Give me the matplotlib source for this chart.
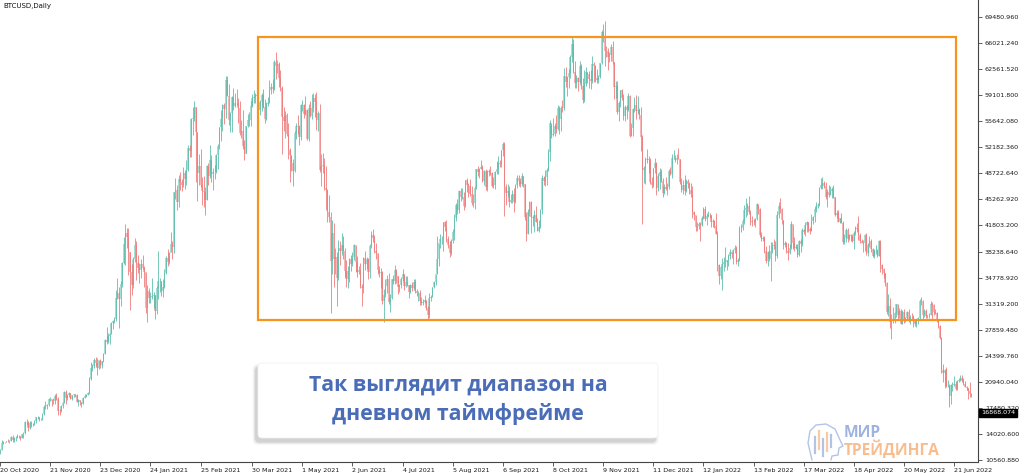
import matplotlib
matplotlib.use("Agg")
import matplotlib.pyplot as plt
import matplotlib.transforms as mtransforms
from matplotlib.patches import FancyBboxPatch, Rectangle
from matplotlib.lines import Line2D
import numpy as np
import pandas as pd

# BTCUSD daily candles, values in thousands of USD, one row per month.
# The open of each day is the previous day's close (24/7 market).
first_open = 11.75
start_date = "2020-10-20"

close_2020 = [
    11.92, 12.82, 12.97, 12.93, 13.11, 13.03, 13.07, 13.64, 13.27, 13.46, 13.56, 13.80,
    13.74, 13.55, 14.02, 14.15, 15.59, 15.58, 14.83, 15.48, 15.33, 15.30, 15.70, 16.28, 16.32, 16.07, 15.96, 16.72, 17.65, 17.80, 17.82, 18.66, 18.68, 18.37, 18.36, 19.11, 18.73, 17.15, 17.14, 17.72, 18.18, 19.63,
    18.80, 19.20, 19.45, 18.70, 19.15, 19.36, 19.17, 18.32, 18.55, 18.26, 18.06, 18.80, 19.14, 19.25, 19.44, 21.38, 22.80, 23.13, 23.87, 23.48, 22.75, 23.82, 23.24, 23.73, 24.71, 26.49, 26.28, 27.08, 27.36, 28.84, 29.00,
]
high_2020 = [
    12.00, 13.18, 13.16, 13.02, 13.16, 13.33, 13.24, 13.76, 13.86, 13.62, 13.66, 14.07,
    13.86, 13.82, 14.07, 14.24, 15.74, 15.96, 15.69, 15.78, 15.82, 15.48, 15.91, 16.34, 16.45, 16.32, 16.14, 16.84, 17.84, 18.39, 18.02, 18.79, 18.93, 18.70, 18.77, 19.35, 19.42, 18.92, 17.41, 17.85, 18.34, 19.75,
    19.92, 19.31, 19.57, 19.50, 19.19, 19.41, 19.39, 19.30, 18.64, 18.55, 18.29, 18.95, 19.39, 19.35, 19.56, 21.56, 23.64, 23.28, 24.10, 24.26, 24.08, 23.83, 24.06, 23.77, 24.76, 26.72, 28.29, 27.40, 27.40, 28.94, 29.24,
]
low_2020 = [
    11.42, 11.90, 12.72, 12.88, 12.90, 12.90, 12.79, 13.05, 12.95, 12.99, 13.15, 13.45,
    13.55, 13.29, 13.49, 13.55, 14.09, 15.22, 14.42, 14.73, 14.95, 15.09, 15.27, 15.50, 15.96, 15.81, 15.84, 15.88, 16.57, 17.32, 17.39, 17.76, 18.46, 17.75, 18.05, 18.04, 18.57, 16.53, 16.60, 16.94, 17.52, 18.18,
    18.00, 18.57, 18.94, 18.62, 18.54, 18.94, 18.92, 18.24, 17.75, 17.94, 17.67, 18.02, 18.76, 19.01, 19.25, 19.40, 21.24, 22.42, 22.79, 23.09, 21.89, 22.69, 22.85, 22.82, 23.65, 24.64, 25.99, 26.18, 26.06, 27.36, 27.96,
]

close_2021 = [
    29.37, 32.13, 32.78, 31.97, 33.99, 36.82, 39.37, 40.80, 40.25, 38.24, 35.54, 33.91, 37.32, 39.19, 36.83, 36.07, 35.79, 36.63, 36.07, 35.55, 30.83, 33.01, 32.08, 32.26, 32.37, 32.57, 30.43, 33.47, 34.32, 34.32, 33.11,
    33.54, 35.51, 37.47, 36.93, 38.14, 39.27, 38.90, 46.20, 46.48, 44.92, 47.91, 47.50, 47.11, 48.72, 47.94, 49.20, 52.15, 51.68, 55.89, 56.10, 57.54, 54.21, 48.82, 49.71, 47.10, 46.34, 46.19, 45.14,
    49.63, 48.38, 50.54, 48.56, 48.93, 48.91, 51.21, 52.38, 54.88, 55.96, 57.75, 57.23, 61.19, 59.00, 55.86, 56.80, 58.87, 57.65, 58.03, 58.10, 57.35, 54.08, 54.34, 52.30, 51.32, 55.03, 55.85, 55.78, 57.63, 58.73, 58.92,
    59.10, 59.00, 57.12, 58.20, 59.12, 57.60, 56.00, 57.97, 58.10, 59.77, 60.20, 59.89, 63.50, 62.97, 63.20, 61.45, 60.06, 56.22, 55.72, 56.47, 53.91, 51.76, 51.09, 50.05, 49.00, 54.02, 55.03, 54.82, 53.56, 57.75,
    57.83, 56.63, 57.20, 53.33, 57.42, 56.40, 57.36, 58.80, 58.23, 55.86, 56.70, 49.15, 49.72, 49.88, 46.76, 46.43, 43.54, 42.91, 37.00, 40.78, 37.30, 37.54, 34.77, 38.81, 38.32, 39.22, 38.44, 35.66, 34.62, 35.68, 37.34,
    36.69, 37.57, 39.19, 36.88, 35.52, 35.80, 33.59, 33.41, 37.39, 36.68, 37.31, 35.55, 39.02, 40.53, 40.14, 38.35, 38.09, 35.82, 35.48, 35.60, 31.68, 32.51, 33.68, 34.66, 31.64, 32.16, 34.64, 34.43, 35.87, 35.04,
    33.57, 33.90, 34.66, 35.29, 33.75, 34.24, 33.86, 32.88, 33.81, 33.52, 34.26, 33.09, 32.73, 32.82, 31.78, 31.42, 31.53, 31.80, 30.82, 29.81, 32.11, 32.31, 33.58, 34.29, 35.35, 37.34, 39.41, 39.99, 40.01, 42.24, 41.63,
    39.97, 39.20, 38.15, 39.75, 40.87, 42.82, 44.56, 43.80, 46.37, 45.59, 45.59, 44.43, 47.79, 47.10, 47.05, 45.99, 44.70, 44.80, 46.72, 49.34, 48.91, 49.32, 49.55, 47.71, 48.99, 46.94, 49.06, 48.90, 48.81, 46.99, 47.17,
    48.85, 49.33, 50.03, 49.94, 51.77, 52.66, 46.86, 46.05, 46.40, 44.85, 45.17, 46.03, 44.95, 47.11, 48.15, 47.76, 47.30, 48.31, 47.26, 42.84, 40.69, 43.57, 44.90, 42.84, 42.72, 43.21, 42.24, 41.03, 41.52, 43.79,
    48.12, 47.71, 48.20, 49.11, 51.51, 55.36, 53.81, 53.97, 54.97, 54.66, 57.47, 56.01, 57.37, 57.35, 61.67, 60.88, 61.53, 62.04, 64.26, 65.99, 62.21, 60.69, 61.39, 60.93, 63.04, 60.36, 58.48, 60.62, 62.23, 61.89, 61.32,
    61.00, 63.23, 62.94, 61.45, 61.13, 61.53, 63.33, 67.57, 66.97, 64.99, 64.95, 64.16, 64.47, 65.47, 63.56, 60.16, 60.37, 56.94, 58.12, 59.76, 58.68, 56.30, 57.57, 57.20, 58.96, 53.73, 54.72, 57.27, 57.81, 56.95,
    57.18, 56.48, 53.60, 49.15, 49.40, 50.44, 50.59, 50.47, 47.55, 47.14, 49.39, 50.05, 46.70, 48.34, 48.86, 47.63, 46.13, 46.83, 46.68, 46.91, 49.00, 48.60, 50.78, 50.82, 50.43, 50.81, 50.64, 47.59, 46.44, 47.18, 46.31,
]
high_2021 = [
    29.60, 33.16, 34.78, 33.60, 34.44, 36.94, 40.18, 41.95, 41.43, 41.42, 38.26, 36.63, 37.60, 40.10, 39.70, 37.89, 36.82, 37.30, 37.85, 36.42, 35.55, 33.83, 33.45, 32.94, 34.80, 32.92, 32.56, 33.78, 38.41, 34.83, 34.34,
    34.64, 35.97, 37.66, 38.59, 38.31, 40.95, 39.74, 46.26, 48.14, 47.19, 48.46, 48.87, 48.00, 49.55, 49.18, 50.55, 52.53, 52.48, 56.11, 57.51, 58.35, 57.48, 54.18, 51.27, 51.95, 48.25, 48.37, 46.92,
    49.76, 50.13, 52.53, 51.11, 49.36, 49.81, 51.34, 52.62, 54.90, 57.20, 57.99, 58.05, 61.68, 61.60, 60.56, 56.90, 58.98, 60.03, 59.37, 59.89, 58.69, 58.40, 55.81, 57.16, 53.21, 55.04, 56.56, 56.89, 58.31, 59.27, 59.77,
    59.46, 60.05, 59.50, 58.52, 59.41, 59.96, 58.57, 58.15, 58.88, 61.20, 60.69, 61.23, 63.73, 64.85, 63.80, 63.56, 62.50, 60.40, 57.50, 57.00, 56.76, 55.42, 52.12, 51.17, 50.56, 54.36, 55.43, 56.43, 55.20, 57.96,
    58.46, 57.94, 58.96, 57.23, 57.91, 58.36, 59.23, 59.46, 59.21, 59.56, 57.00, 58.00, 51.33, 51.44, 50.70, 49.75, 46.58, 45.77, 43.53, 42.46, 42.17, 38.78, 38.23, 39.78, 39.75, 40.71, 40.38, 38.84, 37.23, 36.40, 37.44,
    37.90, 38.22, 39.29, 39.24, 37.69, 36.40, 36.79, 34.00, 37.53, 38.32, 37.60, 37.42, 39.32, 41.00, 41.28, 40.47, 39.50, 38.13, 36.35, 36.11, 35.72, 33.30, 34.70, 35.15, 35.49, 32.63, 34.70, 35.18, 36.54, 36.00,
    35.04, 33.94, 34.91, 35.94, 35.29, 35.06, 35.02, 33.92, 34.05, 34.25, 34.59, 34.65, 33.30, 33.09, 33.16, 32.22, 31.96, 32.50, 31.82, 31.01, 32.79, 32.52, 33.61, 34.42, 35.35, 40.37, 39.49, 40.63, 40.36, 42.25, 42.32,
    42.54, 40.42, 39.77, 39.97, 41.34, 43.27, 44.70, 45.31, 46.45, 46.70, 46.74, 46.18, 47.89, 48.09, 47.37, 47.90, 47.09, 46.00, 47.03, 49.35, 49.72, 49.49, 50.48, 49.79, 49.20, 49.30, 49.16, 49.28, 49.63, 48.88, 48.20,
    49.07, 50.40, 51.00, 50.52, 51.87, 52.85, 52.92, 47.34, 47.31, 47.00, 45.97, 46.46, 46.73, 47.25, 48.45, 48.45, 48.14, 48.75, 48.33, 47.33, 43.60, 44.00, 45.00, 45.08, 42.98, 43.89, 44.33, 42.72, 42.56, 44.01,
    48.45, 48.33, 49.22, 49.46, 51.89, 55.75, 55.33, 56.11, 55.45, 56.49, 57.81, 57.63, 57.67, 58.53, 62.76, 62.82, 61.69, 62.61, 64.43, 66.99, 66.64, 63.68, 61.74, 61.49, 63.71, 63.27, 61.44, 62.40, 62.93, 62.26, 62.38,
    62.43, 64.29, 63.53, 63.10, 62.57, 61.79, 63.35, 67.78, 68.53, 69.00, 65.61, 65.40, 64.87, 65.93, 66.28, 63.54, 61.01, 60.94, 58.33, 59.84, 60.00, 59.21, 57.85, 57.76, 59.44, 59.15, 55.40, 57.42, 58.86, 59.15,
    59.04, 57.38, 57.56, 53.87, 49.70, 50.89, 51.94, 50.98, 50.71, 48.22, 49.48, 50.71, 50.16, 48.73, 49.42, 49.25, 48.09, 47.31, 48.27, 47.47, 49.33, 49.51, 51.30, 51.81, 51.11, 51.24, 52.04, 50.64, 48.12, 47.85, 48.53,
]
low_2021 = [
    28.80, 29.03, 32.05, 28.13, 31.07, 33.55, 36.65, 36.57, 38.76, 35.14, 30.55, 32.53, 33.48, 36.87, 34.55, 35.44, 34.07, 34.80, 35.95, 33.56, 30.08, 28.87, 31.52, 31.46, 31.95, 30.85, 29.36, 30.05, 31.99, 32.92, 32.37,
    32.30, 33.45, 35.37, 36.42, 36.70, 38.25, 37.37, 38.13, 45.28, 43.79, 44.19, 46.43, 46.35, 46.86, 46.64, 47.10, 48.97, 50.91, 50.87, 53.86, 55.71, 47.62, 45.02, 47.12, 46.85, 44.45, 44.26, 43.21,
    45.11, 47.11, 48.12, 47.52, 46.44, 47.96, 48.78, 49.33, 51.98, 53.02, 54.37, 55.27, 56.08, 58.96, 55.11, 54.21, 54.28, 57.09, 57.53, 57.82, 55.44, 53.78, 53.44, 51.94, 50.45, 51.40, 54.89, 55.07, 55.04, 57.48, 58.06,
    58.01, 58.40, 57.04, 56.49, 57.02, 57.43, 55.47, 55.86, 57.67, 58.01, 59.31, 59.43, 59.85, 61.30, 62.10, 60.23, 59.65, 51.30, 54.29, 53.45, 53.62, 50.58, 47.50, 49.08, 47.01, 48.86, 53.33, 53.94, 52.48, 53.11,
    57.07, 56.04, 56.48, 53.13, 52.97, 56.20, 56.01, 56.87, 56.27, 54.49, 54.40, 48.83, 46.98, 48.81, 46.55, 43.87, 42.19, 42.19, 30.07, 35.28, 33.53, 35.26, 31.11, 34.58, 36.46, 37.84, 37.25, 34.86, 33.60, 33.44, 34.27,
    35.70, 36.42, 37.20, 35.59, 34.86, 35.27, 33.47, 31.02, 32.75, 35.86, 35.98, 34.71, 34.84, 38.76, 39.59, 38.11, 37.35, 35.38, 34.88, 33.47, 31.33, 28.90, 32.29, 32.73, 31.32, 30.27, 31.97, 33.96, 34.04, 34.10,
    32.71, 32.86, 33.41, 34.40, 33.20, 33.55, 33.75, 32.16, 32.73, 33.08, 33.35, 32.80, 32.44, 31.67, 31.20, 31.19, 31.21, 31.51, 30.59, 29.32, 29.49, 31.77, 32.23, 33.47, 33.85, 35.26, 36.40, 38.80, 39.27, 38.34, 41.09,
    39.54, 38.73, 37.64, 37.78, 39.40, 39.89, 42.41, 43.34, 43.38, 45.03, 45.35, 43.89, 44.29, 46.19, 45.57, 45.71, 44.49, 44.30, 43.99, 46.66, 48.33, 48.13, 49.29, 47.62, 47.21, 46.43, 46.42, 48.41, 48.47, 46.92, 46.75,
    46.58, 48.61, 48.67, 49.55, 49.53, 50.98, 43.04, 44.52, 45.57, 44.26, 44.83, 44.79, 43.53, 44.82, 46.81, 47.07, 46.83, 47.08, 46.86, 42.57, 39.75, 40.63, 43.10, 40.83, 41.71, 40.87, 42.19, 40.99, 40.87, 41.48,
    43.28, 47.12, 47.09, 47.16, 49.09, 50.40, 53.44, 53.70, 53.72, 54.14, 54.49, 53.99, 54.41, 56.85, 57.12, 60.14, 58.96, 60.09, 61.41, 63.57, 62.10, 60.12, 60.06, 59.63, 60.75, 59.93, 58.07, 58.25, 60.37, 60.76, 60.09,
    59.90, 60.75, 60.90, 60.82, 60.80, 60.70, 61.41, 63.25, 66.25, 62.96, 64.15, 62.46, 63.56, 63.70, 63.25, 58.60, 58.70, 56.57, 55.66, 57.49, 58.51, 55.81, 55.72, 55.95, 57.03, 53.57, 53.69, 53.69, 56.92, 55.96,
    56.73, 55.96, 51.68, 42.00, 47.42, 47.33, 50.12, 48.71, 47.36, 46.82, 46.94, 48.71, 45.84, 46.35, 46.60, 47.57, 45.60, 45.95, 46.47, 45.81, 46.60, 48.47, 48.12, 50.73, 50.21, 49.97, 50.58, 47.36, 46.24, 45.97, 45.84,
]

close_2022 = [
    47.69, 47.35, 46.46, 45.90, 43.57, 43.16, 41.56, 41.73, 41.91, 41.82, 42.74, 43.95, 42.59, 43.10, 43.18, 43.11, 42.25, 42.38, 41.69, 40.70, 36.47, 35.08, 36.28, 36.65, 36.95, 36.85, 37.14, 37.71, 38.18, 37.92, 38.48,
    38.74, 36.95, 37.15, 41.50, 41.44, 42.41, 43.84, 44.12, 44.34, 43.57, 42.41, 42.24, 42.20, 42.59, 44.58, 43.96, 40.55, 40.00, 40.12, 38.43, 37.08, 38.29, 37.30, 38.33, 39.21, 39.11, 37.71, 43.19,
    44.42, 43.92, 42.45, 39.14, 39.40, 38.42, 38.06, 38.74, 41.98, 39.44, 38.79, 38.90, 37.85, 39.67, 39.34, 41.14, 40.95, 41.80, 42.19, 41.25, 41.08, 42.36, 42.89, 43.96, 44.35, 44.50, 46.82, 47.13, 47.47, 47.06, 45.54,
    46.28, 45.81, 46.41, 46.58, 45.50, 43.17, 43.44, 42.25, 42.76, 42.16, 39.52, 40.13, 41.15, 39.94, 40.55, 40.38, 39.68, 40.80, 41.50, 41.37, 40.53, 39.74, 39.47, 39.47, 40.46, 38.12, 39.24, 39.74, 38.60, 37.71,
    38.47, 38.53, 37.75, 39.70, 36.58, 36.04, 35.50, 34.06, 30.30, 31.02, 28.94, 29.05, 29.28, 30.10, 31.31, 29.86, 30.43, 28.72, 30.31, 29.20, 29.43, 30.32, 29.10, 29.65, 29.56, 29.27, 28.63, 29.02, 29.47, 31.73, 31.79,
    29.80, 30.45, 29.70, 29.86, 29.91, 31.37, 31.13, 30.21, 30.11, 29.08, 28.36, 26.76, 22.49, 22.21, 22.57, 20.38, 20.47, 19.02, 20.55, 20.57, 20.71, 19.99, 21.08, 21.23, 21.50, 21.03, 20.73, 20.28, 20.10, 19.78,
    19.30, 19.25,
]
high_2022 = [
    47.94, 47.99, 47.57, 47.48, 47.04, 43.72, 43.13, 42.29, 42.20, 42.20, 43.02, 44.28, 44.33, 43.39, 43.73, 43.46, 43.18, 42.60, 42.56, 43.41, 41.03, 36.67, 36.44, 37.42, 37.52, 38.87, 37.22, 38.00, 38.67, 38.30, 38.67,
    39.23, 38.98, 37.49, 41.70, 41.91, 42.64, 44.45, 45.49, 44.79, 45.76, 43.89, 42.98, 42.67, 42.79, 44.74, 44.53, 44.13, 40.95, 40.44, 40.38, 38.99, 38.40, 39.20, 39.63, 39.63, 40.04, 39.77, 43.76,
    44.95, 45.38, 44.09, 42.51, 39.69, 39.60, 39.41, 39.35, 42.39, 42.00, 40.20, 39.31, 39.26, 39.90, 39.92, 41.47, 41.27, 42.22, 42.37, 42.30, 41.52, 43.33, 43.02, 44.20, 44.92, 44.77, 46.90, 48.10, 48.19, 47.69, 47.57,
    46.69, 47.14, 47.03, 46.87, 47.11, 45.50, 43.87, 43.90, 42.80, 43.38, 42.41, 40.68, 41.49, 41.50, 40.70, 40.63, 40.59, 40.99, 41.73, 42.12, 42.98, 40.82, 39.92, 39.85, 40.58, 40.74, 39.44, 40.35, 39.93, 38.76,
    38.66, 39.17, 38.63, 39.90, 39.79, 36.62, 36.13, 35.49, 34.23, 32.60, 32.19, 30.03, 30.98, 30.30, 31.38, 31.32, 30.75, 30.67, 30.54, 30.72, 29.59, 30.44, 30.62, 29.80, 30.18, 29.85, 29.34, 29.18, 29.54, 31.99, 32.31,
    31.91, 30.60, 30.65, 29.91, 30.14, 31.66, 31.55, 31.34, 30.68, 30.31, 29.39, 28.56, 26.88, 23.31, 22.69, 22.95, 21.27, 20.74, 20.74, 20.93, 21.68, 20.90, 21.16, 21.49, 21.82, 21.84, 21.43, 21.12, 20.41, 20.13,
    20.90, 19.44,
]
low_2022 = [
    46.21, 46.76, 45.98, 45.62, 42.73, 42.56, 41.08, 41.01, 41.33, 39.70, 41.76, 42.58, 42.37, 41.79, 42.96, 42.72, 41.59, 41.54, 41.49, 40.62, 35.74, 34.04, 34.62, 33.18, 35.71, 36.25, 35.81, 36.41, 37.32, 37.42, 36.70,
    38.05, 36.66, 36.32, 37.11, 40.94, 41.14, 41.97, 42.84, 43.21, 43.28, 41.87, 41.71, 41.85, 41.62, 42.47, 43.35, 40.18, 39.76, 39.72, 38.14, 36.82, 36.40, 37.09, 34.32, 38.10, 38.60, 37.05, 37.51,
    42.80, 43.37, 41.93, 38.69, 38.94, 38.10, 37.19, 38.00, 38.67, 38.60, 38.34, 38.70, 37.64, 37.68, 38.25, 39.03, 40.60, 40.36, 40.95, 40.96, 40.58, 40.99, 41.91, 42.24, 43.63, 44.10, 44.39, 46.66, 46.69, 46.70, 45.28,
    44.26, 45.62, 45.79, 45.41, 45.39, 43.00, 42.78, 42.18, 42.14, 42.13, 39.25, 39.30, 39.63, 39.62, 39.78, 39.76, 39.57, 38.71, 40.55, 40.90, 39.84, 39.45, 39.38, 38.23, 38.39, 37.81, 37.77, 38.92, 38.19, 37.60,
    37.48, 37.96, 37.52, 37.67, 35.57, 35.36, 34.79, 33.77, 30.05, 29.78, 28.08, 26.70, 28.76, 28.81, 29.59, 29.15, 29.49, 28.69, 28.70, 28.75, 28.98, 29.26, 28.91, 28.73, 29.35, 28.28, 28.37, 28.28, 28.68, 29.35, 31.22,
    29.37, 29.56, 29.45, 29.50, 29.49, 29.89, 29.26, 29.91, 29.96, 28.87, 28.16, 26.61, 22.13, 20.93, 20.10, 20.28, 20.29, 17.60, 18.02, 19.69, 20.39, 19.83, 19.90, 20.93, 21.05, 21.00, 20.54, 20.22, 19.85, 18.73,
    18.97, 18.98,
]

# axis texts as printed by the terminal
date_labels = ["20 Oct 2020", "21 Nov 2020", "23 Dec 2020", "24 Jan 2021", "25 Feb 2021",
               "30 Mar 2021", "1 May 2021", "2 Jun 2021", "4 Jul 2021", "5 Aug 2021",
               "6 Sep 2021", "8 Oct 2021", "9 Nov 2021", "11 Dec 2021", "12 Jan 2022",
               "13 Feb 2022", "17 Mar 2022", "18 Apr 2022", "20 May 2022", "21 Jun 2022"]
price_ticks = [69480.960, 66021.240, 62561.520, 59101.800, 55642.080, 52182.360,
               48722.640, 45262.920, 41803.200, 38238.640, 34778.920, 31319.200,
               27859.480, 24399.760, 20940.040, 17480.320, 14020.600, 10560.880]
last_price = 16868.074

# the trading range drawn on the chart
range_start, range_end = "2021-04-03", "2022-06-22"
range_top, range_bottom = 66900, 29150

note_text = "Так выглядит диапазон на\nдневном таймфрейме"

closes = np.array(close_2020 + close_2021 + close_2022) * 1000
highs = np.array(high_2020 + high_2021 + high_2022) * 1000
lows = np.array(low_2020 + low_2021 + low_2022) * 1000
opens = np.concatenate([[first_open * 1000], closes[:-1]])
dates = pd.date_range(start_date, periods=len(closes), freq="D")
idx = np.arange(len(closes))

up_body, up_wick = "#a8dfd5", "#52b9a7"
dn_body, dn_wick = "#f8b6b6", "#ee7070"
axis_col = "#444444"

fig = plt.figure(figsize=(10.24, 4.73), dpi=100)
ax = fig.add_axes([0, 11 / 473, 978 / 1024, 462 / 473])

up = closes >= opens
ax.bar(idx[up], closes[up] - opens[up], bottom=opens[up], width=0.95,
       color=up_body, linewidth=0, zorder=1)
ax.bar(idx[~up], closes[~up] - opens[~up], bottom=opens[~up], width=0.95,
       color=dn_body, linewidth=0, zorder=1)
ax.vlines(idx[up], lows[up], highs[up], color=up_wick, linewidth=0.55, zorder=2)
ax.vlines(idx[~up], lows[~up], highs[~up], color=dn_wick, linewidth=0.55, zorder=2)

# range rectangle
x0 = dates.get_loc(pd.Timestamp(range_start))
x1 = dates.get_loc(pd.Timestamp(range_end))
ax.add_patch(Rectangle((x0, range_bottom), x1 - x0, range_top - range_bottom,
                       fill=False, edgecolor="#f7941d", linewidth=1.6, zorder=4))

ax.set_xlim(1.27, 624.3)
ax.set_ylim(10300, 71780)

for side in ("left", "top"):
    ax.spines[side].set_visible(False)
for side in ("right", "bottom"):
    ax.spines[side].set_color(axis_col)
    ax.spines[side].set_linewidth(0.8)

tick_pos = [dates.get_loc(pd.to_datetime(s, format="%d %b %Y")) for s in date_labels]
ax.set_xticks(tick_pos)
ax.set_xticklabels(date_labels, ha="left")
ax.yaxis.tick_right()
ax.set_yticks(price_ticks)
ax.set_yticklabels([f"{v:.3f}" for v in price_ticks])
ax.tick_params(axis="both", colors=axis_col, labelcolor="#1a1a1a", labelsize=4.6,
               length=3, width=0.6, direction="out")
ax.tick_params(axis="x", pad=1)
ax.tick_params(axis="y", pad=2)

price_tr = mtransforms.blended_transform_factory(ax.transAxes, ax.transData)
ax.text(1.003, last_price, f"{last_price:.3f}", transform=price_tr, fontsize=4.6,
        color="white", va="center", ha="left", zorder=6, clip_on=False,
        bbox=dict(boxstyle="square,pad=0.25", fc="black", ec="black"))

fig.text(3 / 1024, 1 - 6 / 473, "BTCUSD,Daily", fontsize=5, color="#111111",
         va="center", ha="left")

# note box with soft shadow (inches)
inch = fig.dpi_scale_trans
bx, by, bw, bh = 2.58, 0.35, 4.00, 0.75
for k, a in enumerate([0.025, 0.035, 0.05, 0.07]):
    grow = 0.03 - k * 0.008
    fig.patches.append(FancyBboxPatch(
        (bx - 0.025 - grow, by - 0.04 - grow), bw + 2 * grow, bh + 2 * grow,
        boxstyle="round,pad=0,rounding_size=0.05", transform=inch,
        fc="#000000", ec="none", alpha=a, zorder=8))
fig.patches.append(FancyBboxPatch((bx, by), bw, bh,
                                  boxstyle="round,pad=0,rounding_size=0.04",
                                  transform=inch, fc="white", ec="#f0f0f0",
                                  linewidth=0.5, zorder=9))
fig.text(bx + bw / 2, by + bh / 2 + 0.01, note_text, transform=inch,
         family="Open Sans", fontweight="bold", fontsize=15.3, color="#4b6cb7",
         ha="center", va="center", linespacing=1.42, zorder=10)

# watermark logo: head outline with small candles, then the name
head_x = [8.12, 8.08, 8.10, 8.16, 8.26, 8.35, 8.40, 8.43, 8.39, 8.38, 8.32, 8.31]
head_y = [0.13, 0.30, 0.42, 0.48, 0.49, 0.44, 0.33, 0.27, 0.25, 0.18, 0.17, 0.13]
fig.lines.append(Line2D(head_x, head_y, transform=inch, color="#b3c3e8",
                        linewidth=1.0, solid_capstyle="round"))
logo_candles = [(8.15, 0.20, 0.36, "#b3c3e8"), (8.19, 0.24, 0.42, "#f8c9a3"),
                (8.23, 0.17, 0.34, "#b3c3e8"), (8.27, 0.22, 0.40, "#f8c9a3"),
                (8.31, 0.26, 0.38, "#b3c3e8")]
for cx, cy0, cy1, cc in logo_candles:
    fig.lines.append(Line2D([cx, cx], [cy0, cy1], transform=inch, color=cc,
                            linewidth=1.6))
fig.text(8.44, 0.36, "МИР", transform=inch, family="Open Sans", fontweight="bold",
         fontsize=11.2, color="#9fb3e0", ha="left", va="baseline")
fig.text(8.44, 0.18, "ТРЕЙДИНГА", transform=inch, family="Open Sans", fontweight="bold",
         fontsize=11.2, color="#f8bd8e", ha="left", va="baseline")

fig.savefig("out.png", dpi=100)
